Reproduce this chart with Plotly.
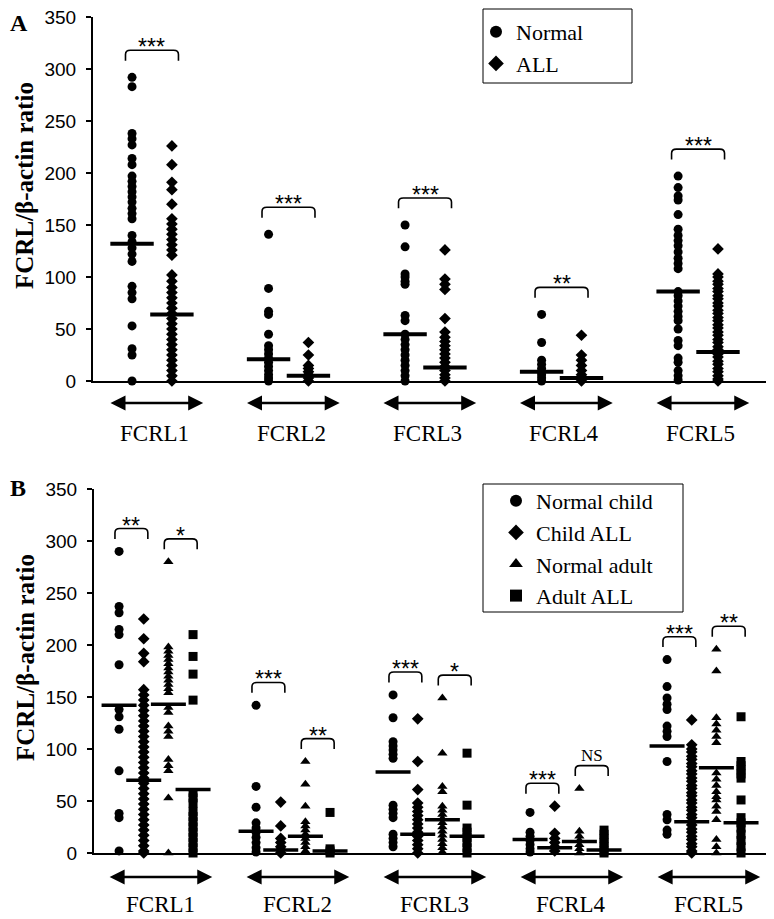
import plotly.graph_objects as go

categories = ["FCRL1", "FCRL2", "FCRL3", "FCRL4", "FCRL5"]
y_ticks = [0, 50, 100, 150, 200, 250, 300, 350]

# ---------------- Panel A : Normal vs ALL ----------------
a_normal = [
    [292, 283, 238, 233, 227, 214, 208, 197, 192, 187, 182, 177, 172, 166, 161, 156,
     140, 134, 128, 122, 115, 91, 85, 79, 53, 31, 25, 0],
    [141, 89, 67, 64, 45, 34, 30, 26, 22, 18, 14, 10, 6, 3, 0],
    [150, 129, 103, 100, 96, 93, 63, 58, 45, 40, 35, 30, 25, 20, 15, 10, 5, 0],
    [64, 37, 20, 16, 12, 9, 6, 3, 0],
    [197, 186, 178, 174, 160, 146, 140, 135, 130, 124, 118, 113, 108, 86, 82, 77, 72,
     67, 62, 58, 50, 39, 34, 22, 18, 10, 5, 1],
]
a_all = [
    [226, 208, 191, 184, 170, 156, 151, 146, 141, 136, 131, 126, 121, 102, 96, 90, 85,
     80, 75, 70, 65, 60, 55, 50, 45, 40, 35, 30, 25, 20, 15, 10, 5, 0],
    [37, 25, 15, 12, 9, 6, 3, 0],
    [126, 98, 93, 88, 60, 47, 42, 38, 34, 30, 26, 22, 18, 14, 10, 6, 3, 0],
    [44, 25, 20, 15, 10, 6, 3, 0],
    [127, 103, 100, 96, 93, 89, 86, 82, 79, 75, 72, 68, 65, 61, 58, 54, 51, 47, 44, 40,
     37, 33, 30, 26, 23, 19, 16, 12, 9, 5, 2, 0],
]
a_normal_median = [132, 21, 45, 9, 86]
a_all_median = [64, 5, 13, 3, 28]
a_sig = ["***", "***", "***", "**", "***"]

# ---------------- Panel B : child / adult ----------------
b_normal_child = [
    [290, 237, 231, 215, 210, 181, 138, 131, 119, 79, 38, 34, 2],
    [142, 64, 44, 29, 24, 20, 15, 10, 5, 1],
    [152, 130, 107, 103, 99, 95, 91, 46, 42, 38, 34, 18, 14, 10, 6],
    [39, 20, 16, 12, 8, 4, 1],
    [186, 160, 149, 143, 138, 122, 117, 112, 88, 37, 32, 22, 18],
]
b_child_all = [
    [225, 206, 192, 184, 157, 152, 147, 142, 137, 132, 127, 122, 117, 112, 107, 102, 97,
     92, 87, 82, 77, 72, 67, 62, 57, 52, 47, 42, 37, 32, 27, 22, 17, 12, 7, 2, 0],
    [49, 26, 14, 10, 6, 3, 0],
    [129, 88, 61, 48, 44, 40, 36, 32, 28, 24, 20, 16, 12, 8, 4, 0],
    [45, 19, 14, 10, 6, 2],
    [128, 104, 100, 97, 93, 90, 86, 83, 79, 76, 72, 69, 65, 62, 58, 55, 51, 48, 44, 41,
     37, 34, 30, 27, 23, 20, 16, 13, 9, 6, 2, 0],
]
b_normal_adult = [
    [280, 198, 194, 190, 186, 182, 178, 174, 170, 166, 162, 158, 154, 140, 135, 122, 117,
     112, 90, 84, 79, 53, 0],
    [88, 66, 45, 30, 26, 22, 18, 14, 10, 6, 2],
    [149, 96, 64, 59, 45, 41, 37, 33, 29, 25, 21, 17, 13, 9, 5, 1],
    [62, 21, 16, 12, 8, 4, 0],
    [196, 175, 130, 124, 118, 112, 106, 77, 71, 65, 59, 54, 51, 45, 40, 32, 13, 6, 0],
]
b_adult_all = [
    [210, 189, 172, 147, 58, 53, 48, 40, 35, 30, 25, 20, 15, 10, 5, 0],
    [39, 4, 2, 0],
    [96, 46, 24, 20, 15, 10, 5, 0],
    [22, 18, 14, 10, 6, 2, 0],
    [131, 88, 84, 80, 76, 72, 51, 34, 29, 24, 18, 12, 6, 0],
]
b_normal_child_median = [142, 21, 78, 13, 103]
b_child_all_median = [70, 3, 18, 5, 30]
b_normal_adult_median = [143, 16, 32, 11, 82]
b_adult_all_median = [61, 2, 16, 3, 29]
b_sig_child = ["**", "***", "***", "***", "***"]
b_sig_adult = ["*", "**", "*", "NS", "**"]

# ---------------- figure ----------------
PAGE_OFF = 8                      # default body margin of the page
W, H = 774 - PAGE_OFF, 919 - PAGE_OFF
SERIF = "Liberation Serif, Times New Roman, serif"
SANS = "Liberation Sans, Arial, sans-serif"


def fx(px):
    return (px - PAGE_OFF) / W


def fy(py):
    return 1 - (py - PAGE_OFF) / H


A_OFF = [-0.146, 0.146]
B_OFF = [-0.27, -0.09, 0.09, 0.27]

fig = go.Figure()


def add_series(name, data, med, offset, symbol, xa, ya, legend, msize, barlen, barw):
    xs, ys = [], []
    for i, vals in enumerate(data):
        xs += [i + offset] * len(vals)
        ys += vals
    fig.add_trace(go.Scatter(
        x=xs, y=ys, mode="markers", name=name, xaxis=xa, yaxis=ya, legend=legend,
        marker=dict(symbol=symbol, size=msize, color="black", line=dict(width=0)),
        cliponaxis=False, hoverinfo="y"))
    fig.add_trace(go.Scatter(
        x=[i + offset for i in range(len(med))], y=med, mode="markers",
        xaxis=xa, yaxis=ya, showlegend=False, cliponaxis=False, hoverinfo="y",
        marker=dict(symbol="line-ew", size=barlen, color="black",
                    line=dict(width=barw, color="black"))))


add_series("Normal", a_normal, a_normal_median, A_OFF[0], "circle", "x", "y", "legend", 9, 31, 4)
add_series("ALL", a_all, a_all_median, A_OFF[1], "diamond", "x", "y", "legend", 9, 31, 4)

b_series = [
    ("Normal child", b_normal_child, b_normal_child_median, "circle"),
    ("Child ALL", b_child_all, b_child_all_median, "diamond"),
    ("Normal adult", b_normal_adult, b_normal_adult_median, "triangle-up"),
    ("Adult ALL", b_adult_all, b_adult_all_median, "square"),
]
for k, (nm, dat, med, sym) in enumerate(b_series):
    add_series(nm, dat, med, B_OFF[k], sym, "x2", "y2", "legend2", 9, 25, 3.5)

shapes, annots = [], []


def bracket(xref, yref, xa, xb, ytop, depth, label, fsize, ffam):
    rx, ry = 0.035, 4
    path = (f"M {xa},{ytop - depth} L {xa},{ytop - ry} Q {xa},{ytop} {xa + rx},{ytop} "
            f"L {xb - rx},{ytop} Q {xb},{ytop} {xb},{ytop - ry} L {xb},{ytop - depth}")
    shapes.append(dict(type="path", path=path, xref=xref, yref=yref,
                       line=dict(color="black", width=1.6)))
    annots.append(dict(x=(xa + xb) / 2, y=ytop, xref=xref, yref=yref, text=label,
                       showarrow=False, xanchor="center", yanchor="bottom",
                       yshift=-12 if "*" in label else -1,
                       font=dict(family=ffam, size=fsize, color="black")))


# Panel A brackets: above the taller of the two columns
for i in range(len(categories)):
    top = max(max(a_normal[i]), max(a_all[i])) + 26
    bracket("x", "y", i + A_OFF[0] - 0.048, i + A_OFF[1] + 0.048, top, 10,
            a_sig[i], 23, SANS)

# Panel B brackets
for i in range(len(categories)):
    top1 = max(max(b_normal_child[i]), max(b_child_all[i])) + 22
    bracket("x2", "y2", i + B_OFF[0] - 0.03, i + B_OFF[1] + 0.03, top1, 10,
            b_sig_child[i], 23, SANS)
    top2 = max(max(b_normal_adult[i]), max(b_adult_all[i])) + 22
    lab = b_sig_adult[i]
    bracket("x2", "y2", i + B_OFF[2] - 0.03, i + B_OFF[3] + 0.03, top2, 10,
            lab, 23 if "*" in lab else 17, SANS if "*" in lab else SERIF)

# arrows and category labels
for i, cat in enumerate(categories):
    for xref, yp, half in (("x", fy(403), 0.345), ("x2", fy(877), 0.38)):
        annots.append(dict(x=i + 0.03 + half, y=yp, xref=xref, yref="paper",
                           ax=i + 0.03 - half, ay=0, axref=xref, ayref="pixel",
                           text="", showarrow=True, arrowside="end+start",
                           arrowhead=2, startarrowhead=2, arrowsize=1.2,
                           startarrowsize=1.2, arrowwidth=2.5, arrowcolor="black"))
    annots.append(dict(x=i + 0.02, y=fy(433), xref="x", yref="paper", text=cat,
                       showarrow=False, xanchor="center", yanchor="middle",
                       font=dict(family=SERIF, size=23, color="black")))
    annots.append(dict(x=i + 0.03, y=0, xref="x2", yref="paper", text=cat,
                       showarrow=False, xanchor="center", yanchor="bottom",
                       font=dict(family=SERIF, size=23, color="black")))

# axis titles and panel letters
for yp in (186, 658):
    annots.append(dict(x=fx(25), y=fy(yp), xref="paper", yref="paper",
                       text="<b>FCRL/β-actin ratio</b>", textangle=-90, showarrow=False,
                       xanchor="center", yanchor="middle",
                       font=dict(family=SERIF, size=25, color="black")))
annots.append(dict(x=0, y=1, xref="paper", yref="paper", text="<b>A</b>",
                   showarrow=False, xanchor="left", yanchor="top",
                   font=dict(family=SERIF, size=24, color="black")))
annots.append(dict(x=fx(18), y=fy(488), xref="paper", yref="paper", text="<b>B</b>",
                   showarrow=False, xanchor="center", yanchor="middle",
                   font=dict(family=SERIF, size=24, color="black")))

# legend frames
for x0, y0, x1, y1 in ((483, 9, 632, 83), (483, 484, 683, 612)):
    shapes.append(dict(type="rect", xref="paper", yref="paper",
                       x0=fx(x0), x1=fx(x1), y0=fy(y1), y1=fy(y0),
                       line=dict(color="black", width=1), fillcolor="white", layer="below"))

xax = dict(showline=True, linecolor="black", linewidth=2, showgrid=False, zeroline=False,
           showticklabels=False, ticks="", fixedrange=True, automargin=False)
yax = dict(range=[0, 350], tickvals=y_ticks, ticks="outside", ticklen=5, tickwidth=2,
           tickcolor="black", showline=True, linecolor="black", linewidth=2,
           showgrid=False, zeroline=False, ticklabelstandoff=6, automargin=False,
           ticklabeloverflow="allow",
           tickfont=dict(family=SANS, size=19, color="black"))

legend_common = dict(xanchor="left", yanchor="top", bgcolor="rgba(0,0,0,0)",
                     borderwidth=0, itemsizing="constant", tracegroupgap=0,
                     font=dict(family=SERIF, size=22, color="black"))

fig.update_layout(
    width=W, height=H, margin=dict(l=0, r=0, t=0, b=0, autoexpand=False),
    paper_bgcolor="white", plot_bgcolor="white",
    xaxis=dict(xax, domain=[fx(93), fx(770)], range=[-0.432, 4.527], anchor="y"),
    yaxis=dict(yax, domain=[fy(381), fy(17)], anchor="x"),
    xaxis2=dict(xax, domain=[fx(94), fx(772)], range=[-0.453, 4.496], anchor="y2"),
    yaxis2=dict(yax, domain=[fy(853), fy(489)], anchor="x2"),
    legend=dict(legend_common, x=fx(476), y=fy(11)),
    legend2=dict(legend_common, x=fx(496), y=fy(480)),
    shapes=shapes, annotations=annots, showlegend=True,
)

fig.write_html("out.html")
